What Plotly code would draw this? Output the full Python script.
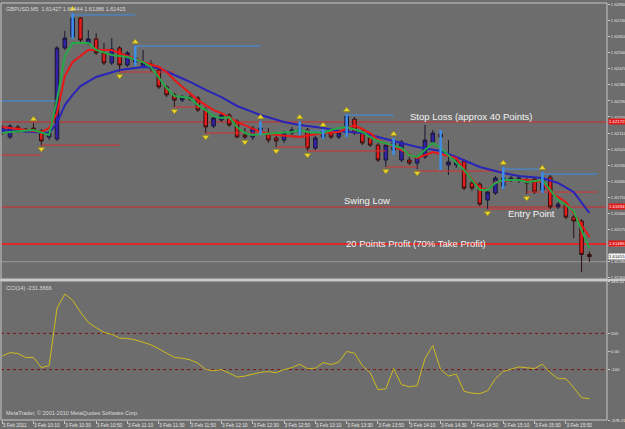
import plotly.graph_objects as go

# ---------------- data ----------------
header_text = "GBPUSD,M5  1.61427 1.61444 1.61386 1.61415"
cci_title = "CCI(14) -231.3666"
copyright_text = "MetaTrader, \u00a9 2001-2010 MetaQuotes Software Corp."

time_labels = ["3 Feb 2011", "3 Feb 10:10", "3 Feb 10:30", "3 Feb 10:50", "3 Feb 11:10",
               "3 Feb 11:30", "3 Feb 11:50", "3 Feb 12:10", "3 Feb 12:30", "3 Feb 12:50",
               "3 Feb 13:10", "3 Feb 13:30", "3 Feb 13:50", "3 Feb 14:10", "3 Feb 14:30",
               "3 Feb 14:50", "3 Feb 15:10", "3 Feb 15:30", "3 Feb 15:50"]

bars = list(range(76))
opens = [1.62110, 1.62087, 1.62144, 1.62121, 1.62138, 1.62121, 1.62087, 1.62076, 1.62588, 1.62650,
         1.62757, 1.62616, 1.62639, 1.62560, 1.62504, 1.62588, 1.62492, 1.62509, 1.62481, 1.62498,
         1.62464, 1.62369, 1.62324, 1.62295, 1.62312, 1.62307, 1.62239, 1.62149, 1.62183, 1.62211,
         1.62177, 1.62099, 1.62087, 1.62127, 1.62110, 1.62082, 1.62070, 1.62110, 1.62116, 1.62127,
         1.62025, 1.62087, 1.62116, 1.62087, 1.62110, 1.62188, 1.62116, 1.62082, 1.62042, 1.61958,
         1.62014, 1.61958, 1.61958, 1.61941, 1.61975, 1.62059, 1.62104, 1.61930, 1.61930, 1.61952,
         1.61829, 1.61823, 1.61733, 1.61772, 1.61812, 1.61845, 1.61845, 1.61845, 1.61851, 1.61789,
         1.61862, 1.61694, 1.61710, 1.61637, 1.61615, 1.61427]
highs = [1.62155, 1.62160, 1.62155, 1.62138, 1.62166, 1.62132, 1.62121, 1.62599, 1.62684, 1.62785,
         1.62762, 1.62689, 1.62672, 1.62616, 1.62644, 1.62599, 1.62571, 1.62599, 1.62577, 1.62520,
         1.62475, 1.62380, 1.62335, 1.62324, 1.62324, 1.62318, 1.62256, 1.62205, 1.62228, 1.62222,
         1.62188, 1.62138, 1.62149, 1.62177, 1.62138, 1.62099, 1.62121, 1.62144, 1.62177, 1.62138,
         1.62093, 1.62132, 1.62127, 1.62121, 1.62217, 1.62199, 1.62127, 1.62093, 1.62054, 1.62054,
         1.62082, 1.62070, 1.61975, 1.61986, 1.62155, 1.62127, 1.62127, 1.62070, 1.61969, 1.61964,
         1.61845, 1.61834, 1.61789, 1.61868, 1.61919, 1.61868, 1.61868, 1.61862, 1.61862, 1.61891,
         1.61874, 1.61722, 1.61722, 1.61649, 1.61626, 1.61444]
lows = [1.62099, 1.62076, 1.62110, 1.62110, 1.62116, 1.62037, 1.62070, 1.62065, 1.62577, 1.62639,
        1.62622, 1.62605, 1.62549, 1.62492, 1.62492, 1.62453, 1.62481, 1.62487, 1.62475, 1.62453,
        1.62357, 1.62312, 1.62256, 1.62284, 1.62290, 1.62228, 1.62110, 1.62138, 1.62172, 1.62144,
        1.62082, 1.62076, 1.62070, 1.62099, 1.62054, 1.62031, 1.62054, 1.62099, 1.62099, 1.62009,
        1.62014, 1.62076, 1.62076, 1.62076, 1.62087, 1.62099, 1.62042, 1.62031, 1.61947, 1.61919,
        1.61986, 1.61947, 1.61930, 1.61907, 1.61964, 1.62048, 1.61902, 1.61874, 1.61913, 1.61789,
        1.61784, 1.61699, 1.61682, 1.61761, 1.61795, 1.61834, 1.61829, 1.61767, 1.61767, 1.61772,
        1.61682, 1.61682, 1.61626, 1.61519, 1.61328, 1.61386]
closes = [1.62144, 1.62149, 1.62121, 1.62132, 1.62127, 1.62065, 1.62110, 1.62588, 1.62644, 1.62757,
          1.62633, 1.62639, 1.62560, 1.62504, 1.62582, 1.62492, 1.62560, 1.62532, 1.62504, 1.62475,
          1.62369, 1.62324, 1.62295, 1.62312, 1.62301, 1.62239, 1.62144, 1.62194, 1.62211, 1.62155,
          1.62087, 1.62087, 1.62138, 1.62138, 1.62070, 1.62065, 1.62110, 1.62127, 1.62132, 1.62025,
          1.62082, 1.62121, 1.62087, 1.62110, 1.62205, 1.62110, 1.62054, 1.62042, 1.61958, 1.62042,
          1.62054, 1.62059, 1.61941, 1.61975, 1.62070, 1.62110, 1.62087, 1.61947, 1.61947, 1.61800,
          1.61800, 1.61710, 1.61778, 1.61857, 1.61857, 1.61857, 1.61857, 1.61829, 1.61778, 1.61857,
          1.61694, 1.61710, 1.61637, 1.61615, 1.61427, 1.61415]

# moving averages (sampled at bars)
slow_ma_bars = [0, 6, 7, 8, 9, 10, 12, 15, 18, 20, 22, 24, 26, 28, 30, 33, 36, 38, 41, 43, 46, 48,
                51, 53, 56, 58, 61, 64, 66, 69, 71, 73, 75]
slow_ma = [1.62127, 1.62110, 1.62166, 1.62267, 1.62324, 1.62374, 1.62425, 1.62464, 1.62481, 1.62475,
           1.62436, 1.62397, 1.62352, 1.62312, 1.62262, 1.62211, 1.62172, 1.62155, 1.62138, 1.62121,
           1.62110, 1.62087, 1.62054, 1.62031, 1.62009, 1.61975, 1.61919, 1.61885, 1.61868, 1.61857,
           1.61829, 1.61778, 1.61660]
mid_ma_bars = [0, 5, 6, 7, 8, 9, 10, 11, 14, 16, 18, 20, 21, 22, 23, 25, 27, 28, 30, 33, 35, 38, 41,
               43, 45, 47, 48, 51, 53, 55, 58, 59, 61, 62, 63, 65, 67, 69, 70, 72, 73, 75]
mid_ma = [1.62144, 1.62116, 1.62138, 1.62222, 1.62430, 1.62509, 1.62543, 1.62577, 1.62577, 1.62543,
          1.62509, 1.62481, 1.62453, 1.62408, 1.62369, 1.62295, 1.62239, 1.62222, 1.62172, 1.62116,
          1.62099, 1.62087, 1.62110, 1.62116, 1.62155, 1.62110, 1.62070, 1.62014, 1.61969, 1.62003,
          1.61969, 1.61902, 1.61800, 1.61789, 1.61834, 1.61845, 1.61845, 1.61834, 1.61778, 1.61722,
          1.61660, 1.61525]
fast_ma_bars = [0, 1, 4, 6, 7, 8, 9, 11, 12, 14, 16, 18, 19, 20, 21, 22, 24, 25, 26, 27, 28, 29, 30,
                31, 32, 35, 37, 38, 39, 41, 42, 43, 44, 46, 47, 48, 51, 52, 53, 54, 55, 56, 57, 58,
                59, 61, 62, 63, 64, 66, 67, 69, 70, 71, 72, 73, 74, 75]
fast_ma = [1.62110, 1.62116, 1.62127, 1.62099, 1.62295, 1.62543, 1.62616, 1.62616, 1.62577, 1.62549,
           1.62537, 1.62509, 1.62481, 1.62425, 1.62363, 1.62318, 1.62307, 1.62267, 1.62239, 1.62205,
           1.62194, 1.62199, 1.62144, 1.62110, 1.62099, 1.62110, 1.62116, 1.62127, 1.62116, 1.62110,
           1.62127, 1.62138, 1.62144, 1.62116, 1.62087, 1.62065, 1.62025, 1.61986, 1.61975, 1.62014,
           1.62054, 1.62025, 1.61983, 1.61941, 1.61902, 1.61789, 1.61789, 1.61829, 1.61845, 1.61845,
           1.61834, 1.61845, 1.61789, 1.61733, 1.61705, 1.61671, 1.61564, 1.61463]

# horizontal trade levels
stop_loss = 1.62172
swing_low = 1.61694
profit_target = 1.61486
low_line = 1.61386
bid_price = 1.61415

# fractal resistance (light blue) and support (red) steps
res_start = [-1, 9, 17, 38, 44, 64, 69]
res_end = [7, 17, 33, 43.5, 50, 69, 76]
res_price = [1.62290, 1.62774, 1.62599, 1.62121, 1.62211, 1.61907, 1.61879]
sup_start = [-1, 5, 15, 22, 26, 35, 39, 49, 53, 62, 67]
sup_end = [5, 15, 22, 26, 35, 39, 49, 53, 64, 70, 76]
sup_price = [1.61986, 1.62042, 1.62453, 1.62256, 1.62110, 1.62031, 1.62009, 1.61919, 1.61896,
             1.61682, 1.61778]
highlight_bars = [9, 17, 33, 38, 41, 44, 50, 56, 64, 69]

frac_up_bars = [4, 9, 17, 33, 38, 41, 44, 50, 64, 69]
frac_up_price = [1.62188, 1.62807, 1.62622, 1.62199, 1.62199, 1.62155, 1.62239, 1.62104, 1.61941, 1.61913]
frac_dn_bars = [5, 15, 22, 26, 31, 35, 39, 49, 53, 62, 67]
frac_dn_price = [1.62020, 1.62430, 1.62234, 1.62087, 1.62059, 1.62009, 1.61986, 1.61896, 1.61885,
                 1.61660, 1.61744]

cci = [-25, -6, -11, -33, -33, -89, -78, 239, 317, 283,
       217, 161, 131, 105, 95, 74, 72, 64, 51, 37,
       15, -9, -33, -37, -46, -64, -100, -106, -100, -119,
       -141, -136, -125, -115, -111, -117, -100, -89, -70, -95,
       -92, -61, -72, -58, 0, -9, -78, -117, -211, -206,
       -94, -183, -195, -189, -39, 33, -100, -135, -125, -220,
       -230, -233, -217, -150, -110, -96, -85, -90, -94, -70,
       -117, -150, -150, -200, -255, -261]
cci_levels = [100, -100]

price_ticks = [1.62830, 1.62740, 1.62650, 1.62560, 1.62470, 1.62380, 1.62290, 1.62200, 1.62110,
               1.62020, 1.61930, 1.61840, 1.61750, 1.61660, 1.61570, 1.61480, 1.61390, 1.61300]
cci_ticks = [389.14, 100, 0, -100, -378.21]
cci_tick_text = ["389.14", "100", "0.00", "-100", "-378.21"]

# ---------------- styling ----------------
BG = "#6d6d6d"
AXIS = "#c8c8c8"
TXT = "#e6e6e6"
W, H = 625, 429
x_dom = [1 / W, 607 / W]
main_dom = [1 - 279 / H, 1 - 3 / H]
cci_dom = [1 - 420 / H, 1 - 281 / H]
x_range = [-0.15, 77.25]

fig = go.Figure()

def seg_xy(starts, ends, prices):
    xs, ys = [], []
    for s, e, p in zip(starts, ends, prices):
        xs += [s, e, None]
        ys += [p, p, None]
    return xs, ys

sx, sy = seg_xy(sup_start, sup_end, sup_price)
fig.add_trace(go.Scatter(x=sx, y=sy, mode="lines", line=dict(color="#d83030", width=1),
                         hoverinfo="skip", xaxis="x", yaxis="y"))
rx, ry = seg_xy(res_start, res_end, res_price)
fig.add_trace(go.Scatter(x=rx, y=ry, mode="lines", line=dict(color="#3b8fe8", width=1),
                         hoverinfo="skip", xaxis="x", yaxis="y"))

fig.add_trace(go.Scatter(x=slow_ma_bars, y=slow_ma, mode="lines",
                         line=dict(color="#2a24b8", width=2), xaxis="x", yaxis="y"))
fig.add_trace(go.Scatter(x=mid_ma_bars, y=mid_ma, mode="lines",
                         line=dict(color="#e81818", width=2), xaxis="x", yaxis="y"))

fig.add_trace(go.Candlestick(
    x=bars, open=opens, high=highs, low=lows, close=closes,
    increasing=dict(line=dict(color="#181830", width=1), fillcolor="#3322a8"),
    decreasing=dict(line=dict(color="#301010", width=1), fillcolor="#e41c1c"),
    whiskerwidth=0, xaxis="x", yaxis="y", hoverinfo="skip"))

fig.add_trace(go.Scatter(x=fast_ma_bars, y=fast_ma, mode="lines",
                         line=dict(color="#24a848", width=2), xaxis="x", yaxis="y"))

hx, hy = [], []
for b in highlight_bars:
    hx += [b, b, None]
    hy += [lows[b], highs[b], None]
fig.add_trace(go.Scatter(x=hx, y=hy, mode="lines", line=dict(color="#3b8fe8", width=2.5),
                         xaxis="x", yaxis="y"))

fig.add_trace(go.Scatter(x=frac_up_bars, y=frac_up_price, mode="markers",
                         marker=dict(symbol="triangle-up", size=6, color="#e8d428",
                                     line=dict(color="#8a7a10", width=0.5)),
                         xaxis="x", yaxis="y"))
fig.add_trace(go.Scatter(x=frac_dn_bars, y=frac_dn_price, mode="markers",
                         marker=dict(symbol="triangle-down", size=6, color="#e8d428",
                                     line=dict(color="#8a7a10", width=0.5)),
                         xaxis="x", yaxis="y"))

fig.add_trace(go.Scatter(x=bars, y=cci, mode="lines", line=dict(color="#cdbb1e", width=1),
                         xaxis="x2", yaxis="y2"))

shapes = []
for lvl, wdt, col in [(stop_loss, 1, "#d42a2a"), (swing_low, 1, "#d42a2a"),
                      (profit_target, 2, "#dc2a2a"), (low_line, 1, "#9a9a9a")]:
    shapes.append(dict(type="line", xref="paper", yref="y", x0=x_dom[0], x1=x_dom[1],
                       y0=lvl, y1=lvl, line=dict(color=col, width=wdt), layer="below"))
for lvl in cci_levels:
    shapes.append(dict(type="line", xref="paper", yref="y2", x0=x_dom[0], x1=x_dom[1],
                       y0=lvl, y1=lvl, line=dict(color="#7a1414", width=1, dash="dot"), layer="below"))
for dom in (main_dom, cci_dom):
    shapes.append(dict(type="rect", xref="paper", yref="paper", x0=x_dom[0], x1=x_dom[1],
                       y0=dom[0], y1=dom[1], line=dict(color=AXIS, width=1)))
shapes.append(dict(type="line", xref="paper", yref="paper", x0=0, x1=1,
                   y0=(main_dom[0] + cci_dom[1]) / 2, y1=(main_dom[0] + cci_dom[1]) / 2,
                   line=dict(color=AXIS, width=2)))

ann = []
font_small = dict(family="Liberation Sans, Arial", size=5.5, color="#dcdcdc")
ann.append(dict(text=header_text, xref="paper", yref="paper", x=4 / W, y=1 - 4 / H,
                xanchor="left", yanchor="top", showarrow=False, font=font_small))
ann.append(dict(text=cci_title, xref="paper", yref="paper", x=4 / W, y=1 - 283 / H,
                xanchor="left", yanchor="top", showarrow=False, font=font_small))
ann.append(dict(text=copyright_text, xref="paper", yref="paper", x=4 / W, y=1 - 418 / H,
                xanchor="left", yanchor="bottom", showarrow=False, font=font_small))

font_lab = dict(family="Liberation Sans, Arial", size=9.5, color="#f2f2f2")
ann.append(dict(text="Stop Loss (approx 40 Points)", x=51.8, y=stop_loss, xref="x", yref="y",
                xanchor="left", yanchor="bottom", showarrow=False, font=font_lab, yshift=-2))
ann.append(dict(text="Swing Low", x=43.4, y=swing_low, xref="x", yref="y",
                xanchor="left", yanchor="bottom", showarrow=False, font=font_lab, yshift=-1))
ann.append(dict(text="Entry Point", x=64.3, y=swing_low, xref="x", yref="y",
                xanchor="left", yanchor="top", showarrow=False, font=font_lab, yshift=1))
ann.append(dict(text="20 Points Profit (70% Take Profit)", x=43.7, y=profit_target, xref="x",
                yref="y", xanchor="left", yanchor="middle", showarrow=False, font=font_lab))

for lvl, bg, fg in [(stop_loss, "#e01818", "#ffffff"), (swing_low, "#e01818", "#ffffff"),
                    (profit_target, "#e01818", "#ffffff"), (bid_price, "#f4f4f4", "#202020")]:
    ann.append(dict(text="%.5f" % lvl, xref="paper", yref="y", x=608 / W, y=lvl,
                    xanchor="left", yanchor="middle", showarrow=False, bgcolor=bg,
                    borderpad=0, font=dict(family="Liberation Sans, Arial", size=4.3, color=fg)))

tickfont = dict(family="Liberation Sans, Arial", size=4.3, color=TXT)
xtickfont = dict(family="Liberation Sans, Arial", size=4.8, color=TXT)
fig.update_layout(
    width=W, height=H, margin=dict(l=0, r=0, t=0, b=0, autoexpand=False),
    paper_bgcolor=BG, plot_bgcolor=BG, showlegend=False,
    xaxis=dict(domain=x_dom, range=x_range, anchor="y", showticklabels=False, showgrid=False,
               zeroline=False, rangeslider=dict(visible=False), automargin=False),
    yaxis=dict(domain=main_dom, range=[1.61289, 1.62841], side="right", anchor="x",
               tickvals=price_ticks, ticktext=["%.5f" % v for v in price_ticks],
               tickfont=tickfont, ticks="outside", ticklen=2, tickcolor=AXIS,
               showgrid=False, zeroline=False, automargin=False),
    xaxis2=dict(domain=x_dom, range=x_range, anchor="y2", tickvals=bars[::4], ticktext=time_labels,
                tickfont=xtickfont, ticks="outside", ticklen=3, tickcolor=AXIS, tickangle=0,
                ticklabelposition="outside right", showgrid=False, zeroline=False,
                automargin=False),
    yaxis2=dict(domain=cci_dom, range=[-378.21, 389.14], side="right", anchor="x2",
                tickvals=cci_ticks, ticktext=cci_tick_text, tickfont=tickfont, ticks="outside",
                ticklen=2, tickcolor=AXIS, showgrid=False, zeroline=False, automargin=False),
    shapes=shapes, annotations=ann, boxgap=0.35,
)

fig.write_html("out.html")
